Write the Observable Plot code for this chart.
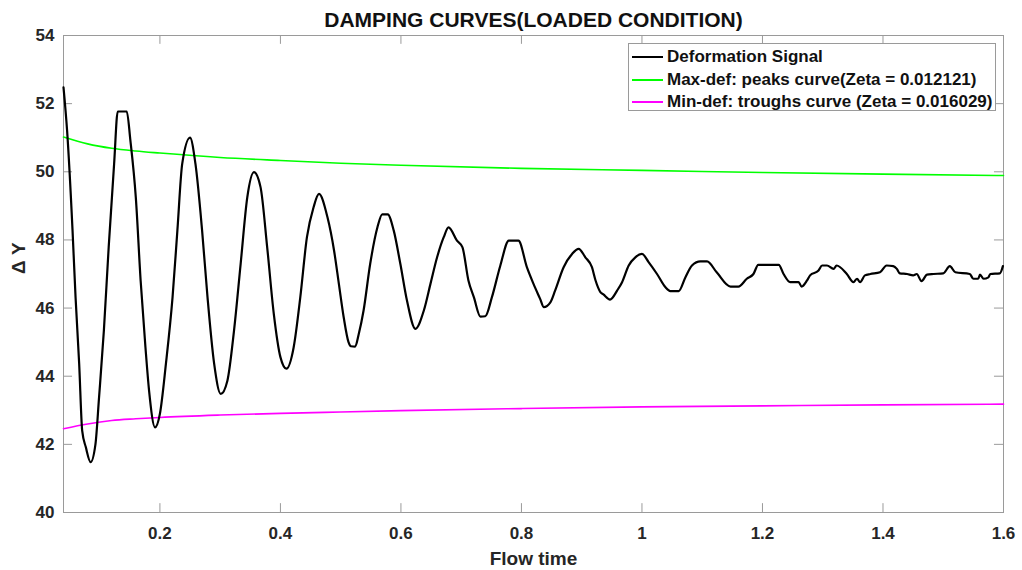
<!DOCTYPE html>
<html>
<head>
<meta charset="utf-8">
<script src="https://cdn.jsdelivr.net/npm/d3@7"></script>
<script src="https://cdn.jsdelivr.net/npm/@observablehq/plot@0.6"></script>
<style>
  body { margin: 0; background: #fff; }
  #wrap { position: relative; width: 1022px; height: 570px; font-family: "Liberation Sans", Arial, sans-serif; }
  #legend { position: absolute; left: 628px; top: 43px; width: 368px; height: 68px; border: 1px solid #9a9a9a; background: #fff; box-sizing: border-box; padding-top: 2px; }
  .row { display: flex; align-items: center; height: 22.5px; font-size: 17px; font-weight: bold; color: #111; white-space: nowrap; }
  .sw { width: 31px; height: 0; margin-left: 3px; margin-right: 4px; }
</style>
</head>
<body>
<div id="wrap">
  <div id="chart"></div>
  <div id="legend"></div>
</div>
<script>
const title = "DAMPING CURVES(LOADED CONDITION)";
const xLabel = "Flow time";
const yLabel = "\u0394 Y";
const xTicks = [0.2, 0.4, 0.6, 0.8, 1.0, 1.2, 1.4, 1.6];
const yTicks = [40, 42, 44, 46, 48, 50, 52, 54];
const seriesNames = [
  "Deformation Signal",
  "Max-def: peaks curve(Zeta = 0.012121)",
  "Min-def: troughs curve (Zeta = 0.016029)"
];
const seriesColors = ["#000000", "#00ff00", "#ff00ff"];

// Deformation signal
const signalT = [
  0.040, 0.046, 0.055, 0.060, 0.066, 0.071, 0.077, 0.085, 0.093, 0.099,
  0.107, 0.115, 0.124, 0.130, 0.145, 0.151, 0.160, 0.168, 0.176, 0.182,
  0.192, 0.200, 0.210, 0.221, 0.229, 0.237, 0.250, 0.259, 0.270, 0.279,
  0.290, 0.301, 0.312, 0.323, 0.334, 0.345, 0.356, 0.367, 0.378, 0.389,
  0.400, 0.410, 0.422, 0.433, 0.444, 0.455, 0.464, 0.478, 0.489, 0.497,
  0.505, 0.513, 0.517, 0.524, 0.530, 0.538, 0.549, 0.561, 0.569, 0.578,
  0.588, 0.599, 0.610, 0.624, 0.638, 0.649, 0.660, 0.671, 0.679, 0.693,
  0.702, 0.712, 0.721, 0.732, 0.740, 0.751, 0.765, 0.779, 0.795, 0.809,
  0.820, 0.831, 0.837, 0.848, 0.856, 0.870, 0.884, 0.895, 0.906, 0.917,
  0.923, 0.931, 0.936, 0.947, 0.959, 0.967, 0.978, 0.989, 1.000, 1.011,
  1.025, 1.039, 1.047, 1.061, 1.072, 1.083, 1.097, 1.108, 1.124, 1.147,
  1.160, 1.174, 1.185, 1.193, 1.227, 1.235, 1.246, 1.260, 1.265, 1.274,
  1.279, 1.293, 1.299, 1.307, 1.318, 1.323, 1.340, 1.351, 1.357, 1.362,
  1.370, 1.379, 1.395, 1.406, 1.417, 1.423, 1.428, 1.440, 1.450, 1.456,
  1.464, 1.473, 1.484, 1.500, 1.511, 1.520, 1.544, 1.550, 1.558, 1.561,
  1.567, 1.575, 1.578, 1.594, 1.599
];
const signalY = [
  52.48, 51.20, 48.28, 46.32, 44.37, 42.40, 41.92, 41.48, 42.00, 43.38,
  45.34, 47.79, 50.23, 51.77, 51.77, 50.92, 49.25, 46.81, 44.85, 43.58,
  42.50, 42.90, 44.37, 46.32, 48.28, 50.23, 51.00, 50.23, 48.28, 46.32,
  44.37, 43.48, 43.87, 45.34, 47.30, 49.25, 49.99, 49.55, 47.79, 45.83,
  44.56, 44.22, 44.85, 46.32, 48.08, 48.96, 49.35, 48.67, 47.69, 46.71,
  45.73, 45.00, 44.88, 44.87, 45.24, 45.93, 47.30, 48.37, 48.75, 48.75,
  48.28, 47.30, 46.22, 45.39, 45.93, 46.71, 47.49, 48.08, 48.37, 47.98,
  47.79, 46.81, 46.32, 45.75, 45.76, 46.32, 47.25, 47.98, 47.98, 47.20,
  46.71, 46.27, 46.03, 46.17, 46.52, 47.20, 47.59, 47.74, 47.49, 47.20,
  46.81, 46.47, 46.40, 46.25, 46.52, 46.76, 47.25, 47.49, 47.59, 47.35,
  47.00, 46.61, 46.50, 46.50, 46.90, 47.25, 47.37, 47.37, 47.05, 46.63,
  46.63, 46.86, 47.00, 47.27, 47.27, 47.00, 46.76, 46.76, 46.63, 46.81,
  46.96, 47.10, 47.25, 47.25, 47.15, 47.25, 47.00, 46.76, 46.86, 46.76,
  46.96, 47.00, 47.05, 47.25, 47.23, 47.15, 47.02, 47.00, 46.96, 47.00,
  46.79, 46.98, 47.00, 47.02, 47.23, 47.05, 47.00, 46.86, 46.86, 46.98,
  46.86, 46.90, 47.00, 47.02, 47.23
];

// Envelope curves
const envT = [0.04, 0.08, 0.12, 0.16, 0.2, 0.3, 0.4, 0.5, 0.6, 0.8, 1.0, 1.2, 1.4, 1.6];
const peaksY = [51.02, 50.82, 50.69, 50.61, 50.55, 50.42, 50.33, 50.25, 50.19, 50.10, 50.04, 49.98, 49.93, 49.89];
const troughsY = [42.46, 42.60, 42.70, 42.75, 42.79, 42.86, 42.91, 42.95, 42.99, 43.05, 43.10, 43.13, 43.16, 43.18];

const signal = signalT.map((t, i) => ({t, y: signalY[i]}));
const peaks = envT.map((t, i) => ({t, y: peaksY[i]}));
const troughs = envT.map((t, i) => ({t, y: troughsY[i]}));

const xDom = [0.04, 1.6];
const yDom = [40, 54];
const tx = 0.015, ty = 0.26;
const frameColor = "#9a9a9a";

const chart = Plot.plot({
  width: 1022,
  height: 570,
  marginLeft: 63,
  marginRight: 19,
  marginTop: 35,
  marginBottom: 58,
  style: {fontFamily: "'Liberation Sans', Arial, sans-serif", fontSize: "17px", fontWeight: "bold", color: "#262626", background: "#fff", overflow: "visible"},
  x: {domain: xDom, ticks: xTicks, label: null},
  y: {domain: yDom, ticks: yTicks, label: null},
  marks: [
    Plot.frame({stroke: frameColor}),
    // inward tick marks on all four sides
    Plot.ruleX(xTicks, {x: d => d, y1: yDom[0], y2: yDom[0] + ty, stroke: frameColor}),
    Plot.ruleX(xTicks, {x: d => d, y1: yDom[1], y2: yDom[1] - ty, stroke: frameColor}),
    Plot.ruleY(yTicks, {y: d => d, x1: xDom[0], x2: xDom[0] + tx, stroke: frameColor}),
    Plot.ruleY(yTicks, {y: d => d, x1: xDom[1], x2: xDom[1] - tx, stroke: frameColor}),
    Plot.axisX({ticks: xTicks, tickSize: 0, tickPadding: 14, tickFormat: d => String(+d.toFixed(1)), fill: "#262626"}),
    Plot.axisY({ticks: yTicks, tickSize: 0, tickPadding: 9, fill: "#262626"}),
    Plot.line(peaks, {x: "t", y: "y", stroke: seriesColors[1], strokeWidth: 1.6, curve: "monotone-x"}),
    Plot.line(troughs, {x: "t", y: "y", stroke: seriesColors[2], strokeWidth: 1.6, curve: "monotone-x"}),
    Plot.line(signal, {x: "t", y: "y", stroke: seriesColors[0], strokeWidth: 2.2, curve: "monotone-x", strokeLinejoin: "round"}),
    Plot.text([title], {frameAnchor: "top", dy: -15, lineAnchor: "middle", text: d => d, fontSize: 21, fontWeight: "bold", fill: "#111"}),
    Plot.text([xLabel], {frameAnchor: "bottom", dy: 46, lineAnchor: "middle", text: d => d, fontSize: 19, fontWeight: "bold", fill: "#262626"}),
    Plot.text([yLabel], {frameAnchor: "left", dx: -45, rotate: -90, lineAnchor: "middle", text: d => d, fontSize: 19, fontWeight: "bold", fill: "#262626"})
  ]
});
document.getElementById("chart").appendChild(chart);

const legend = document.getElementById("legend");
seriesNames.forEach((name, i) => {
  const row = document.createElement("div");
  row.className = "row";
  const sw = document.createElement("span");
  sw.className = "sw";
  sw.style.borderTop = `2px solid ${seriesColors[i]}`;
  const label = document.createElement("span");
  label.textContent = name;
  row.appendChild(sw);
  row.appendChild(label);
  legend.appendChild(row);
});
</script>
</body>
</html>
